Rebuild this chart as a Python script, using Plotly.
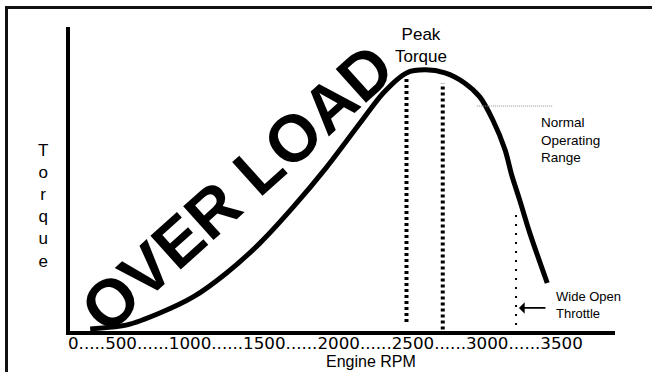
import plotly.graph_objects as go

# ---- data -------------------------------------------------------------
# torque curve (relative torque, % of axis height) against engine speed
rpm = [270, 525, 750, 980, 1210, 1440, 1670, 1900, 2130, 2290, 2450, 2580,
       2715, 2850, 2955, 3045, 3130, 3175, 3230, 3300, 3420]
torque = [0.7, 2.0, 5.9, 11.2, 19.1, 28.9, 40.8, 53.9, 68.4, 78.3, 84.9, 85.9,
          84.9, 81.6, 77.0, 69.4, 59.5, 51.3, 43.1, 32.2, 15.8]

# peak-torque band (two dotted verticals)
peak_rpm = [2450, 2700]
peak_top = [83.5, 81.5]
peak_bottom = [3.0, 0.5]

# wide-open-throttle marker
wot_rpm = 3205
wot_top = 38.2
wot_bottom = 2.0

# normal operating range (thin grey dotted level)
normal_rpm = [2935, 3460]
normal_level = 74.0

# x tick labels, joined by runs of dots
tick_labels = ["0", "500", "1000", "1500", "2000", "2500", "3000", "3500"]
tick_gaps = [5, 6, 6, 6, 6, 6, 6]

# ---- layout geometry ----------------------------------------------------
W, H = 652, 372
PL, PR, PT, PB = 70, 615, 27, 331          # plot area in pixels
X_RANGE = [131, 3887]
Y_RANGE = [0, 100]
FONT = "Liberation Sans, Arial, sans-serif"
TICK_FONT = "DejaVu Sans, Liberation Sans, sans-serif"


def px_x(p):
    return (p - PL) / (PR - PL)


def px_y(p):
    return (PB - p) / (PB - PT)


tick_text = ""
for i, lab in enumerate(tick_labels):
    tick_text += lab
    if i < len(tick_gaps):
        tick_text += "." * tick_gaps[i]

fig = go.Figure()

# torque curve
fig.add_trace(go.Scatter(
    x=rpm, y=torque, mode="lines",
    line=dict(color="black", width=5, shape="spline", smoothing=0.8),
    hoverinfo="skip", showlegend=False,
))

# peak torque verticals
for r, top, bot in zip(peak_rpm, peak_top, peak_bottom):
    fig.add_trace(go.Scatter(
        x=[r, r], y=[bot, top], mode="lines",
        line=dict(color="black", width=4, dash="3px,3px"),
        hoverinfo="skip", showlegend=False,
    ))

# wide open throttle vertical
fig.add_trace(go.Scatter(
    x=[wot_rpm, wot_rpm], y=[wot_bottom, wot_top], mode="lines",
    line=dict(color="black", width=2, dash="2px,7px"),
    hoverinfo="skip", showlegend=False,
))

# normal operating range level
fig.add_trace(go.Scatter(
    x=normal_rpm, y=[normal_level, normal_level], mode="lines",
    line=dict(color="#8c8c8c", width=1, dash="1px,1px"),
    hoverinfo="skip", showlegend=False,
))

annotations = [
    # big rotated overload label
    dict(x=1282, y=47.0, xref="x", yref="y", text="<b>OVER LOAD</b>",
         textangle=-42, showarrow=False, xanchor="center", yanchor="middle",
         font=dict(family=FONT, size=66, color="black")),
    dict(x=2550, y=93.8, xref="x", yref="y", text="Peak<br>Torque",
         showarrow=False, xanchor="center", yanchor="middle",
         font=dict(family=FONT, size=17, color="black")),
    dict(x=3363, y=62.8, xref="x", yref="y", xanchor="left", yanchor="middle",
         text="Normal<br>Operating<br>Range", align="left",
         showarrow=False, font=dict(family=FONT, size=13.5, color="black")),
    dict(x=3467, y=8.7, xref="x", yref="y", xanchor="left", yanchor="middle",
         text="Wide Open<br>Throttle", align="left",
         showarrow=False, font=dict(family=FONT, size=13, color="black")),
    # arrow pointing at the throttle line
    dict(x=3225, y=7.6, xref="x", yref="y", text="", showarrow=True,
         ax=28, ay=0, arrowhead=1, arrowsize=1.2, arrowwidth=1.6,
         arrowcolor="black"),
    # stacked axis title
    dict(x=px_x(43), y=px_y(206), xref="paper", yref="paper",
         xanchor="center", yanchor="middle",
         text="<br>".join("Torque"), showarrow=False,
         font=dict(family=FONT, size=17, color="black")),
    dict(x=px_x(371), y=px_y(361), xref="paper", yref="paper",
         xanchor="center", yanchor="middle",
         text="Engine RPM", showarrow=False,
         font=dict(family=FONT, size=16, color="black")),
    dict(x=px_x(66), y=px_y(342.5), xref="paper", yref="paper",
         xanchor="left", yanchor="middle", text=tick_text, showarrow=False,
         font=dict(family=TICK_FONT, size=16.7, color="black")),
]

# outer frame (right and bottom edges run off the page)
shapes = [dict(type="rect", xref="paper", yref="paper",
               x0=px_x(6.5), x1=px_x(700), y0=px_y(420), y1=px_y(7.5),
               line=dict(color="#111111", width=3), layer="below")]

fig.update_layout(
    width=W, height=H,
    margin=dict(l=PL, r=W - PR, t=PT, b=H - PB, pad=0),
    paper_bgcolor="white", plot_bgcolor="white",
    showlegend=False,
    annotations=annotations, shapes=shapes,
    xaxis=dict(range=X_RANGE, showline=True, linewidth=4, linecolor="black",
               showgrid=False, zeroline=False, showticklabels=False,
               ticks="", fixedrange=True),
    yaxis=dict(range=Y_RANGE, showline=True, linewidth=4, linecolor="black",
               showgrid=False, zeroline=False, showticklabels=False,
               ticks="", fixedrange=True),
)

fig.write_html("out.html", config={"displayModeBar": False})
